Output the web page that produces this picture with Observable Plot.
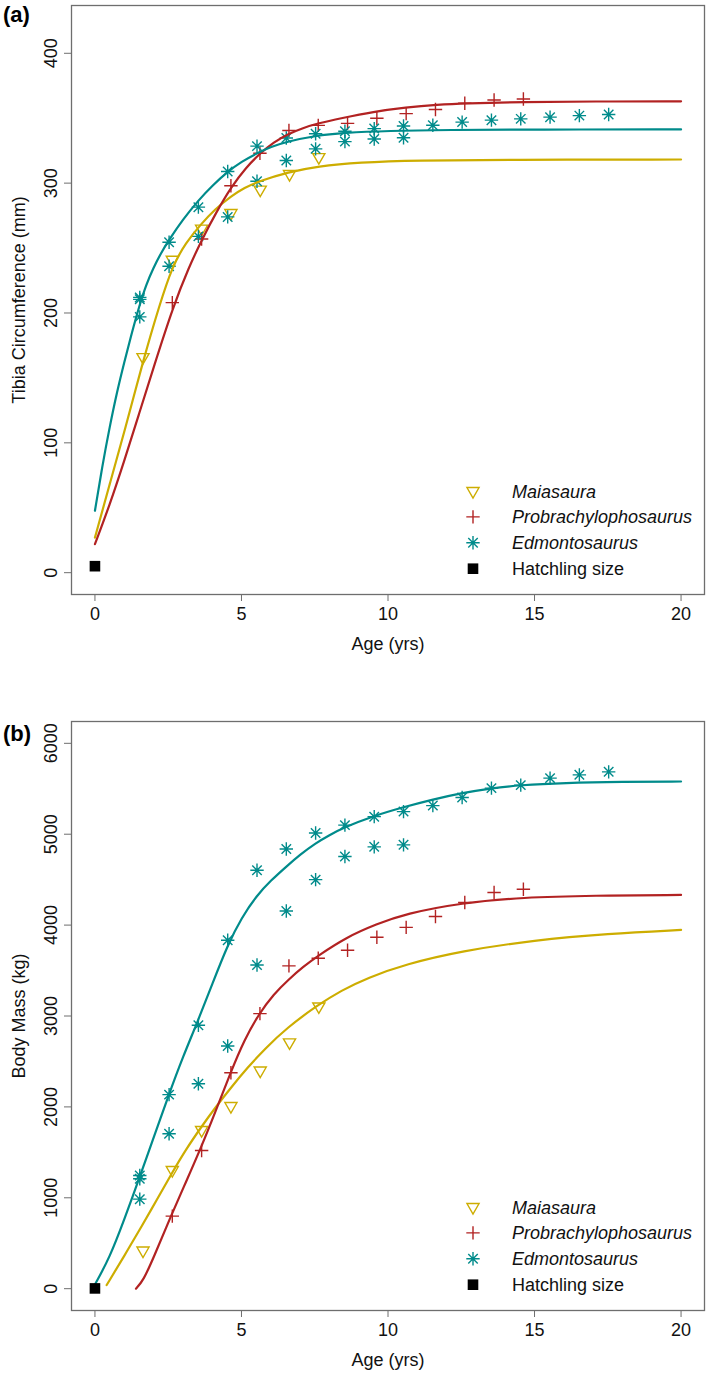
<!DOCTYPE html>
<html><head><meta charset="utf-8">
<script src="https://cdn.jsdelivr.net/npm/d3@7"></script>
<script src="https://cdn.jsdelivr.net/npm/@observablehq/plot@0.6"></script>
<style>
body{margin:0;background:#fff;}
#wrap{position:relative;width:709px;height:1373px;font-family:"Liberation Sans",Arial,sans-serif;}
.panel{position:absolute;left:0;}
#overlay{position:absolute;left:0;top:0;pointer-events:none;}
</style></head><body><div id="wrap"></div>
<script>
// ---------- data ----------
const ageTicks = [0, 5, 10, 15, 20];
const tibiaTicks = [0, 100, 200, 300, 400];
const massTicks = [0, 1000, 2000, 3000, 4000, 5000, 6000];

const speciesNames = ["Maiasaura", "Probrachylophosaurus", "Edmontosaurus"];
const speciesColors = ["#CDAD00", "#B22222", "#008B8B"];
const hatchlingLabel = "Hatchling size";
const panelTags = ["(a)", "(b)"];
const xTitle = "Age (yrs)";
const yTitles = ["Tibia Circumference (mm)", "Body Mass (kg)"];

// observed specimens
const maiaAges = [1.64, 2.64, 3.64, 4.64, 5.64, 6.64, 7.64];
const maiaTibia = [166, 241, 265, 277, 295, 307, 320];
const maiaMass = [420, 1305, 1745, 2010, 2400, 2710, 3105];

const probAges = [2.64, 3.64, 4.64, 5.63, 6.62, 7.62, 8.62, 9.62, 10.62, 11.62, 12.62, 13.62, 14.62];
const probTibia = [208, 257, 298, 323, 340.5, 344.5, 346, 350, 353.5, 356.7, 361.5, 364, 364.8];
const probMass = [798, 1521, 2376, 3026, 3551, 3635, 3723, 3866, 3975, 4094, 4248, 4358, 4395];

const edmoAges = [1.53, 1.53, 1.53, 2.53, 2.53, 3.53, 3.53, 4.53, 4.53, 5.53, 5.53, 6.53, 6.53, 7.53, 7.53,
  8.53, 8.53, 9.53, 9.53, 10.53, 10.53, 11.53, 12.53, 13.53, 14.53, 15.53, 16.53, 17.53];
const edmoTibia = [212, 210.5, 197, 254.5, 236, 281.5, 259, 309, 274, 328.5, 301.5, 334.8, 317.4, 338, 326.4,
  340, 332, 342, 334, 344, 335, 344.6, 347, 348.5, 349.5, 350.8, 352, 352.8];
const edmoMass = [1245, 1210, 985, 2135, 1704, 2898, 2255, 3833, 2670, 4604, 3561, 4838, 4156, 5014, 4500,
  5100, 4754, 5193, 4861, 5249, 4883, 5315, 5404, 5507, 5540, 5617, 5653, 5686];

const hatchAges = [0];
const hatchTibia = [5];
const hatchMass = [3];

// fitted growth curves
const maiaCurveAgesA = [0, 0.5, 1, 1.64, 2.2, 2.64, 3.1, 3.6, 4.1, 4.65, 5.1, 5.6, 6.6, 7.6, 9, 11, 14, 20];
const maiaCurveTibia = [27, 68, 108, 163, 206, 236, 254, 268, 280, 290, 296.5, 301.5, 308.5, 313, 316, 317.5, 318, 318.2];
const probCurveAgesA = [0, 0.5, 1, 1.5, 2, 2.67, 3.2, 3.66, 4.15, 4.65, 5.15, 5.64, 6.1, 6.6, 7.1, 7.6, 8.4, 9.5, 10.6, 11.7, 12.6, 14.6, 17, 20];
const probCurveTibia = [22, 52, 86, 122, 158, 205, 235, 257, 278, 297, 312, 323, 331.5, 338, 342.5, 346, 350, 355, 358.3, 360.5, 361.5, 362.5, 362.9, 363];
const edmoCurveAgesA = [0, 0.25, 0.5, 0.75, 1, 1.25, 1.52, 1.75, 2, 2.25, 2.52, 3, 3.54, 4, 4.54, 5, 5.53, 6, 6.56, 7.5, 8.5, 10, 12, 15, 20];
const edmoCurveTibia = [47.7, 82, 112, 139, 162, 184, 206, 222, 235, 246, 256, 272, 287, 298, 309, 316.5, 323, 328, 332, 336.5, 338.8, 340.3, 341, 341.3, 341.4];

const maiaCurveAgesB = [0.4, 1, 1.6, 2.1, 2.64, 3.1, 3.63, 4.1, 4.66, 5.2, 5.8, 6.55, 7.6, 8.4, 9.3, 10.6, 12.5, 15, 17.5, 20];
const maiaCurveMass = [40, 360, 690, 970, 1280, 1530, 1780, 1990, 2220, 2430, 2640, 2870, 3120, 3280, 3420, 3570, 3715, 3835, 3905, 3947];
const probCurveAgesB = [1.4, 1.65, 2, 2.58, 3.1, 3.63, 4.08, 4.63, 5.1, 5.6, 6.1, 6.6, 7.1, 7.6, 8.6, 9.6, 10.6, 12.5, 14.6, 17, 20];
const probCurveMass = [0, 90, 340, 790, 1170, 1560, 1920, 2380, 2740, 3026, 3240, 3400, 3540, 3661, 3870, 4010, 4125, 4245, 4305, 4325, 4332];
const edmoCurveAgesB = [0, 0.5, 1, 1.53, 2, 2.52, 3, 3.52, 4, 4.54, 5, 5.53, 6, 6.55, 7, 7.52, 8, 8.5, 9.5, 10.5, 11.5, 12.5, 13.5, 14.5, 16, 18, 20];
const edmoCurveMass = [46, 340, 760, 1230, 1660, 2135, 2550, 2950, 3350, 3790, 4080, 4330, 4490, 4650, 4775, 4900, 4990, 5075, 5200, 5295, 5380, 5452, 5505, 5540, 5565, 5577, 5580];

// ---------- symbols (R pch 6, 3, 8, 15) ----------
function makeSymbol(kind) {
  return {
    draw(ctx, size) {
      const r = Math.sqrt(size / Math.PI);
      if (kind === "tri") {
        const w = r * 0.866;
        ctx.moveTo(-w, -r * 0.5); ctx.lineTo(w, -r * 0.5); ctx.lineTo(0, r); ctx.closePath();
      } else if (kind === "plus") {
        ctx.moveTo(-r, 0); ctx.lineTo(r, 0); ctx.moveTo(0, -r); ctx.lineTo(0, r);
      } else if (kind === "star") {
        const d = r * Math.SQRT1_2;
        ctx.moveTo(-r, 0); ctx.lineTo(r, 0); ctx.moveTo(0, -r); ctx.lineTo(0, r);
        ctx.moveTo(-d, -d); ctx.lineTo(d, d); ctx.moveTo(-d, d); ctx.lineTo(d, -d);
      } else {
        ctx.rect(-r, -r, 2 * r, 2 * r);
      }
    }
  };
}
const symTri = makeSymbol("tri"), symPlus = makeSymbol("plus"), symStar = makeSymbol("star"), symSq = makeSymbol("square");
const symR = {tri: 7, plus: 6.7, star: 6.7, square: 5.3};

const rows = (ages, vals) => ages.map((a, i) => ({age: a, value: vals[i]}));

const FRAME = "#6e6e6e";
const FONT = "Liberation Sans, Arial, Helvetica, sans-serif";

function makePanel(cfg) {
  const marks = [
    Plot.axisX({ticks: ageTicks, tickSize: 7, tickPadding: 6, stroke: FRAME, fill: "#111", fontSize: 18,
      tickFormat: d3.format("d"), label: xTitle, labelAnchor: "center", labelArrow: "none", labelOffset: 55}),
    Plot.axisY({ticks: cfg.yTicks, tickSize: 7, tickPadding: 8, tickRotate: -90, stroke: FRAME, fill: "#111", fontSize: 18,
      tickFormat: d3.format("d"), label: cfg.yTitle, labelAnchor: "center", labelArrow: "none", labelOffset: 59}),
    Plot.dot(rows(maiaAges, cfg.maia), {x: "age", y: "value", symbol: symTri, r: symR.tri, fill: "none", stroke: speciesColors[0], strokeWidth: 1.4}),
    Plot.dot(rows(probAges, cfg.prob), {x: "age", y: "value", symbol: symPlus, r: symR.plus, fill: "none", stroke: speciesColors[1], strokeWidth: 1.4}),
    Plot.dot(rows(edmoAges, cfg.edmo), {x: "age", y: "value", symbol: symStar, r: symR.star, fill: "none", stroke: speciesColors[2], strokeWidth: 1.4}),
    Plot.line(rows(cfg.maiaCA, cfg.maiaCV), {x: "age", y: "value", stroke: speciesColors[0], strokeWidth: 2.2, curve: "basis"}),
    Plot.line(rows(cfg.probCA, cfg.probCV), {x: "age", y: "value", stroke: speciesColors[1], strokeWidth: 2.2, curve: "basis"}),
    Plot.line(rows(cfg.edmoCA, cfg.edmoCV), {x: "age", y: "value", stroke: speciesColors[2], strokeWidth: 2.2, curve: "basis"}),
    Plot.dot(rows(hatchAges, cfg.hatch), {x: "age", y: "value", symbol: symSq, r: symR.square, fill: "#000", stroke: "none"}),
    Plot.frame({stroke: FRAME, strokeWidth: 1.3})
  ];
  const svg = Plot.plot({
    width: 709, height: cfg.height,
    marginLeft: 71, marginRight: 5, marginTop: cfg.mT, marginBottom: cfg.mB,
    x: {domain: [-0.8, 20.8]},
    y: {domain: cfg.yDomain},
    style: {fontSize: "18px", fontFamily: FONT, background: "white", color: "#111", overflow: "visible"},
    marks
  });
  const div = document.createElement("div");
  div.className = "panel";
  div.style.top = cfg.top + "px";
  div.appendChild(svg);
  document.getElementById("wrap").appendChild(div);
}

makePanel({top: 0, height: 660, mT: 5, mB: 66, yDomain: [-16.8, 436.8], yTicks: tibiaTicks, yTitle: yTitles[0],
  maia: maiaTibia, prob: probTibia, edmo: edmoTibia, hatch: hatchTibia,
  maiaCA: maiaCurveAgesA, maiaCV: maiaCurveTibia, probCA: probCurveAgesA, probCV: probCurveTibia,
  edmoCA: edmoCurveAgesA, edmoCV: edmoCurveTibia});
makePanel({top: 670, height: 703, mT: 51, mB: 63, yDomain: [-240, 6240], yTicks: massTicks, yTitle: yTitles[1],
  maia: maiaMass, prob: probMass, edmo: edmoMass, hatch: hatchMass,
  maiaCA: maiaCurveAgesB, maiaCV: maiaCurveMass, probCA: probCurveAgesB, probCV: probCurveMass,
  edmoCA: edmoCurveAgesB, edmoCV: edmoCurveMass});

// ---------- overlay: panel tags and legends ----------
const ov = d3.select("#wrap").append("svg").attr("id", "overlay").attr("width", 709).attr("height", 1373)
  .style("font-family", FONT);
ov.append("text").attr("x", 3).attr("y", 21.5).attr("font-weight", "bold").attr("font-size", 22).text(panelTags[0]);
ov.append("text").attr("x", 3).attr("y", 740.5).attr("font-weight", "bold").attr("font-size", 22).text(panelTags[1]);

const legendItems = [
  {label: speciesNames[0], sym: symTri, r: symR.tri, fill: "none", stroke: speciesColors[0], italic: true},
  {label: speciesNames[1], sym: symPlus, r: symR.plus, fill: "none", stroke: speciesColors[1], italic: true},
  {label: speciesNames[2], sym: symStar, r: symR.star, fill: "none", stroke: speciesColors[2], italic: true},
  {label: hatchlingLabel, sym: symSq, r: symR.square, fill: "#000", stroke: "none", italic: false}
];
function legend(frameBottom) {
  const g = ov.append("g");
  legendItems.forEach((it, i) => {
    const cy = frameBottom - 103 + i * 25.9;
    g.append("path").attr("transform", `translate(473,${cy})`)
      .attr("d", d3.symbol(it.sym, it.r * it.r * Math.PI)())
      .attr("fill", it.fill).attr("stroke", it.stroke).attr("stroke-width", 1.4);
    g.append("text").attr("x", 512).attr("y", cy + 6.5).attr("font-size", 18)
      .attr("font-style", it.italic ? "italic" : "normal").attr("fill", "#111").text(it.label);
  });
}
legend(594);
legend(1310);
</script>
</body></html>
